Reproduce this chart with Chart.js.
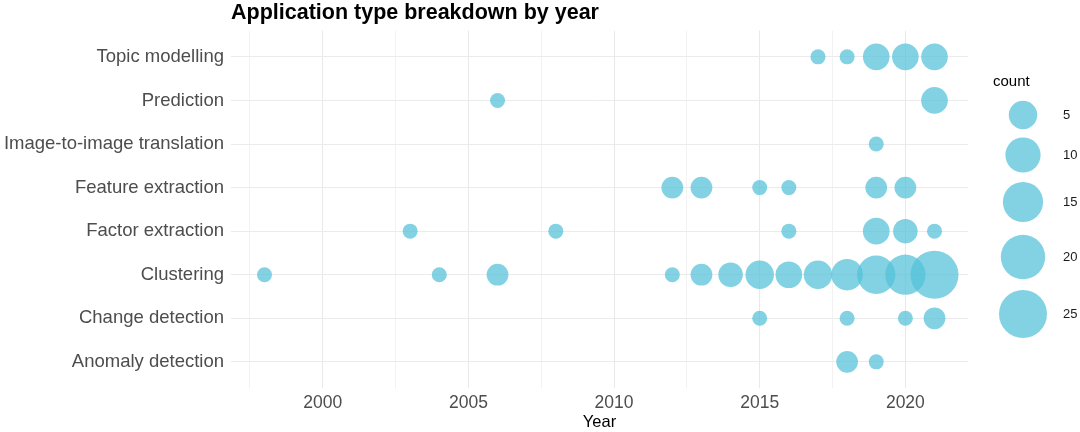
<!DOCTYPE html>
<html>
<head>
<meta charset="utf-8">
<script src="https://cdn.jsdelivr.net/npm/chart.js@4.4.1/dist/chart.umd.min.js"></script>
<style>
  html, body { margin: 0; padding: 0; background: #ffffff; }
  #wrap { width: 1080px; height: 432px; position: relative; }
</style>
</head>
<body>
<div id="wrap"><canvas id="c" width="1080" height="432"></canvas></div>
<script>
// ---- data ----
const categories = ["Anomaly detection", "Change detection", "Clustering", "Factor extraction",
                    "Feature extraction", "Image-to-image translation", "Prediction", "Topic modelling"];

const anomalyYears = [2018, 2019];
const anomalyCounts = [2, 1];
const changeYears = [2015, 2018, 2020, 2021];
const changeCounts = [1, 1, 1, 2];
const clusteringYears = [1998, 2004, 2006, 2012, 2013, 2014, 2015, 2016, 2017, 2018, 2019, 2020, 2021];
const clusteringCounts = [1, 1, 2, 1, 2, 3, 5, 4, 5, 7, 13, 15, 25];
const factorYears = [2003, 2008, 2016, 2019, 2020, 2021];
const factorCounts = [1, 1, 1, 4, 3, 1];
const featureYears = [2012, 2013, 2015, 2016, 2019, 2020];
const featureCounts = [2, 2, 1, 1, 2, 2];
const imageYears = [2019];
const imageCounts = [1];
const predictionYears = [2006, 2021];
const predictionCounts = [1, 4];
const topicYears = [2017, 2018, 2019, 2020, 2021];
const topicCounts = [1, 1, 4, 4, 4];

const xTickLabels = [2000, 2005, 2010, 2015, 2020];
const legendCounts = [5, 10, 15, 20, 25];

// ---- helpers ----
const seriesYears = [anomalyYears, changeYears, clusteringYears, factorYears, featureYears, imageYears, predictionYears, topicYears];
const seriesCounts = [anomalyCounts, changeCounts, clusteringCounts, factorCounts, featureCounts, imageCounts, predictionCounts, topicCounts];

const C_MIN = 1, C_MAX = 25, D_MIN = 15, D_MAX = 48;
function radiusFor(c) {
  const t = Math.max(0, (c - C_MIN) / (C_MAX - C_MIN));
  return (D_MIN + (D_MAX - D_MIN) * Math.sqrt(t)) / 2;
}

const points = [];
seriesYears.forEach((ys, i) => {
  ys.forEach((y, j) => {
    points.push({ x: y, y: i, r: radiusFor(seriesCounts[i][j]), count: seriesCounts[i][j] });
  });
});

const FILL = 'rgba(82,192,216,0.72)';
const FONT = '"Liberation Sans", Arial, sans-serif';
const X_MIN = 1996.85, X_MAX = 2022.15;

// x ticks: majors plus minor midpoints (inside the range)
const step = xTickLabels[1] - xTickLabels[0];
const xTickValues = [];
[xTickLabels[0] - step / 2].concat(xTickLabels.flatMap(v => [v, v + step / 2]))
  .forEach(v => { if (v >= X_MIN && v <= X_MAX) xTickValues.push(v); });

const sizeLegend = {
  id: 'sizeLegend',
  afterDraw(chart) {
    const ctx = chart.ctx;
    ctx.save();
    ctx.fillStyle = '#000000';
    ctx.font = '15px ' + FONT;
    ctx.textAlign = 'left';
    ctx.textBaseline = 'middle';
    ctx.fillText('count', 993, 82);
    const ys = [115, 155, 202, 257, 314];
    legendCounts.forEach((c, i) => {
      ctx.beginPath();
      ctx.fillStyle = FILL;
      ctx.arc(1023, ys[i], radiusFor(c), 0, Math.PI * 2);
      ctx.fill();
      ctx.fillStyle = '#1a1a1a';
      ctx.font = '13px ' + FONT;
      ctx.fillText(String(c), 1063, ys[i]);
    });
    ctx.restore();
  }
};

new Chart(document.getElementById('c'), {
  type: 'bubble',
  data: {
    datasets: [{
      data: points,
      backgroundColor: FILL,
      borderWidth: 0,
      hoverBorderWidth: 0
    }]
  },
  options: {
    responsive: false,
    animation: false,
    events: [],
    devicePixelRatio: 1,
    layout: { padding: { left: 0, right: 112, top: 0, bottom: 0 } },
    plugins: {
      legend: { display: false },
      tooltip: { enabled: false },
      title: {
        display: true,
        text: 'Application type breakdown by year',
        align: 'start',
        fullSize: false,
        color: '#000000',
        font: { family: FONT, size: 21.5, weight: 'bold', lineHeight: 1.15 },
        padding: { top: 1, bottom: 5 }
      }
    },
    scales: {
      x: {
        type: 'linear',
        min: X_MIN,
        max: X_MAX,
        afterBuildTicks(scale) { scale.ticks = xTickValues.map(v => ({ value: v })); },
        afterFit(scale) { scale.height = 44; },
        ticks: {
          autoSkip: false,
          maxRotation: 0,
          includeBounds: false,
          padding: 5,
          color: '#4d4d4d',
          font: { family: FONT, size: 17.5 },
          callback: (v) => xTickLabels.includes(v) ? String(v) : ''
        },
        grid: {
          drawTicks: false,
          color: (ctx) => (ctx.tick && xTickLabels.includes(ctx.tick.value)) ? '#e9e9e9' : '#f2f2f2',
          lineWidth: 1
        },
        border: { display: false },
        title: {
          display: true,
          text: 'Year',
          color: '#000000',
          font: { family: FONT, size: 16.5 },
          padding: { top: 0, bottom: 0 }
        }
      },
      y: {
        type: 'linear',
        min: -0.6,
        max: categories.length - 1 + 0.6,
        afterBuildTicks(scale) { scale.ticks = categories.map((_, i) => ({ value: i })); },
        afterFit(scale) { scale.width = 231; },
        ticks: {
          autoSkip: false,
          padding: 7,
          color: '#4d4d4d',
          font: { family: FONT, size: 18.5 },
          callback: (v) => categories[v] !== undefined ? categories[v] : ''
        },
        grid: { drawTicks: false, color: '#ebebeb', lineWidth: 1 },
        border: { display: false }
      }
    }
  },
  plugins: [sizeLegend]
});
</script>
</body>
</html>
